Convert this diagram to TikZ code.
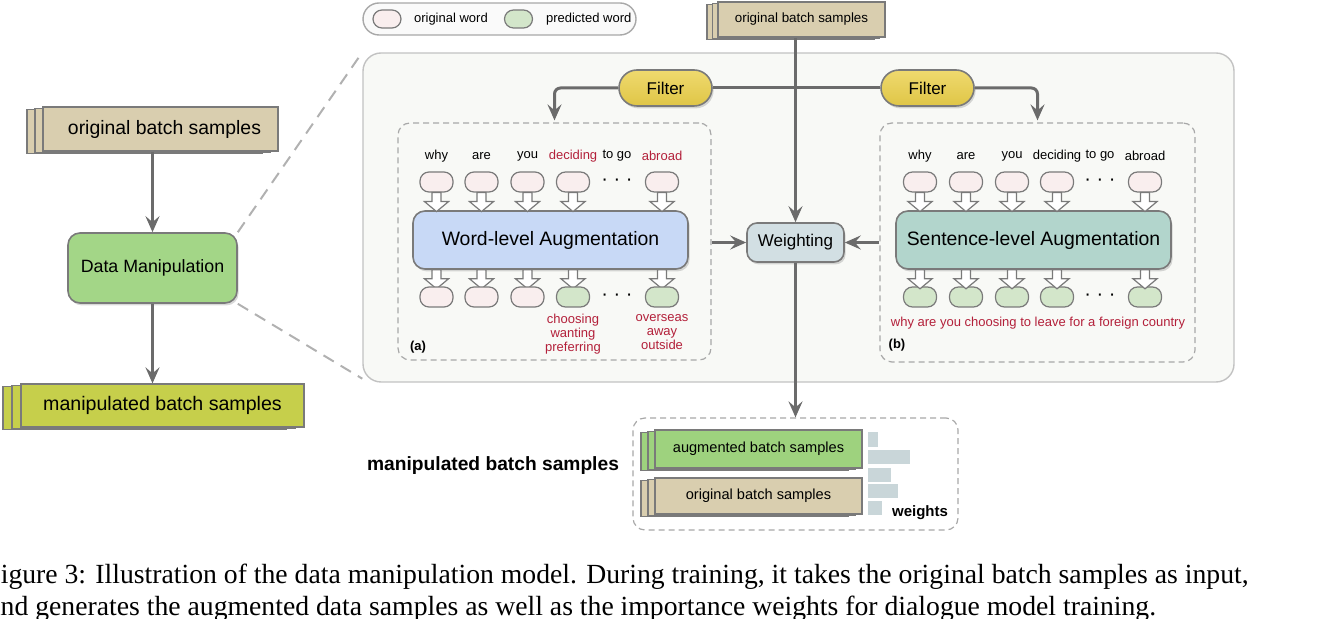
\documentclass[tikz,border=0pt]{standalone}
\usepackage{fontspec}
\setmainfont{Liberation Serif}
\setsansfont{Liberation Sans}
\usetikzlibrary{arrows.meta}
\usetikzlibrary{shadows}

\definecolor{lgray}{HTML}{6B6B6B}
\definecolor{bgray}{HTML}{7A7A7A}
\definecolor{dgray}{HTML}{A8A8A8}
\definecolor{beige}{HTML}{D9CEAF}
\definecolor{dmgreen}{HTML}{A3D687}
\definecolor{mangreen}{HTML}{C6CF4B}
\definecolor{filty}{HTML}{EBD04A}
\definecolor{wlblue}{HTML}{C8D9F6}
\definecolor{slteal}{HTML}{B2D5CC}
\definecolor{wgtc}{HTML}{D2DFE3}
\definecolor{auggreen}{HTML}{9ED27E}
\definecolor{pinkw}{HTML}{F9EEEE}
\definecolor{greenw}{HTML}{D3E6CA}
\definecolor{redw}{HTML}{B3203A}
\definecolor{panelc}{HTML}{F8F9F6}
\definecolor{barc}{HTML}{C9D6D9}

\tikzset{hdown/.pic={\draw[hollow] (-4.5,0) -- (-4.5,9) -- (-12,9) -- (0,19) -- (12,9) -- (4.5,9) -- (4.5,0) -- cycle;}}

\begin{document}
\begin{tikzpicture}[x=0.5pt,y=-0.5pt,font=\sffamily,
  conn/.style={draw=lgray,line width=1.5pt},
  arr/.style={conn,-{Stealth[length=8pt,width=7pt,inset=3pt]}},
  box/.style={draw=bgray,line width=0.8pt,rounded corners=6pt,drop shadow={shadow xshift=0.8pt,shadow yshift=-1.2pt,opacity=0.3}},
  stack/.style={draw=bgray,line width=0.6pt,double copy shadow={shadow xshift=-#1,shadow yshift=-0.6pt}},
  word/.style={draw=bgray,line width=0.6pt,rounded corners=4.5pt,minimum width=16.5pt,minimum height=10pt,inner sep=0pt},
  orig/.style={word,fill=pinkw},
  pred/.style={word,fill=greenw},
  hollow/.style={draw=bgray,fill=white,line width=0.6pt},
  lbl/.style={font=\sffamily\fontsize{6.5}{7}\selectfont},
  redl/.style={lbl,text=redw},
  dots/.style={font=\sffamily\fontsize{10}{10}\selectfont},
  dashbox/.style={draw=dgray,line width=0.6pt,rounded corners=6pt,dash pattern=on 3pt off 2pt},
  zoomline/.style={draw=dgray!90,line width=1pt,dash pattern=on 6pt off 4pt}]
\useasboundingbox (0,0) rectangle (1342,619);

% left column
\node[stack=4pt,fill=beige,minimum width=117.5pt,minimum height=22pt,font=\sffamily\fontsize{9.7}{11}\selectfont] (lorig) at (160.5,129) {\hspace{4pt}original batch samples};
\node[box,fill=dmgreen,minimum width=84.5pt,minimum height=35pt,font=\sffamily\fontsize{8.9}{10}\selectfont] (dm) at (152.5,268) {Data Manipulation};
\node[stack=4.5pt,fill=mangreen,minimum width=141.5pt,minimum height=21.5pt,font=\sffamily\fontsize{9.8}{11}\selectfont] (lman) at (162.5,405.5) {manipulated batch samples};
\draw[arr] (lorig.south -| dm.north) -- (dm.north);
\draw[arr] (dm.south) -- (dm.south |- lman.north);

% panel and legend
\node[draw=dgray!70,fill=panelc,line width=0.7pt,rounded corners=9pt,minimum width=435.5pt,minimum height=164.5pt] (panel) at (798.5,217.5) {};
\draw[zoomline] (dm.north east) -- (panel.north west);
\draw[zoomline] (dm.south east) -- ([yshift=2pt]panel.south west);
\node[draw=dgray,fill=white!98!black,line width=0.7pt,rounded corners=8pt,minimum width=136.5pt,minimum height=16pt] (legend) at (499.5,19) {};
\node[orig,minimum width=14pt,minimum height=9pt] (lgo) at (387,19) {};
\node[lbl,anchor=west] at (407,19) {original word};
\node[pred,minimum width=14pt,minimum height=9pt] (lgp) at (518.5,19) {};
\node[lbl,anchor=west] at (539,19) {predicted word};

% top input and filters
\node[stack=2.75pt,fill=beige,minimum width=83.5pt,minimum height=17.5pt,font=\sffamily\fontsize{6.7}{8}\selectfont] (torig) at (801.5,19.5) {original batch samples};
\node[box,top color=filty!80!white,bottom color=filty!95!black,rounded corners=9pt,minimum width=46.5pt,minimum height=18pt,font=\sffamily\fontsize{8.5}{10}\selectfont] (filtA) at (665.5,88) {Filter};
\node[box,top color=filty!80!white,bottom color=filty!95!black,rounded corners=9pt,minimum width=46.5pt,minimum height=18pt,font=\sffamily\fontsize{8.5}{10}\selectfont] (filtB) at (927.5,88) {Filter};

% (a) word-level
\node[dashbox,minimum width=156.5pt,minimum height=118.5pt] (boxA) at (554.5,241.5) {};
\node[box,fill=wlblue,minimum width=137.5pt,minimum height=29pt,font=\sffamily\fontsize{9.7}{12}\selectfont] (wla) at (550.5,240) {Word-level Augmentation};
\foreach \x [count=\i] in {436.5,481.5,527.5,573,662} {
  \node[orig] (wa\i) at (\x,182) {};
  \pic at (wa\i.south) {hdown};
  \pic at (wla.south -| wa\i) {hdown};
}
\foreach \x/\s [count=\i] in {436.5/orig,481.5/orig,527.5/orig,573/pred,662/pred}
  \node[\s] (pa\i) at (\x,297) {};
\foreach \x/\w in {436.5/why,481.5/are,527.5/you,617/to go}
  \node[lbl] at (\x,156) {\w};
\node[redl] at (573,156) {deciding};
\node[redl] at (662,156) {abroad};
\node[dots] at (617,182) {· · ·};
\node[dots] at (617,297) {· · ·};
\node[redl,align=center,anchor=north] at (573,307) {choosing\\wanting\\preferring};
\node[redl,align=center,anchor=north] at (662,307) {overseas\\away\\outside};
\node[lbl,font=\sffamily\bfseries\fontsize{6.5}{7}\selectfont] at (418,347) {(a)};

% (b) sentence-level
\node[dashbox,minimum width=157.5pt,minimum height=119.5pt] (boxB) at (1037.5,242.5) {};
\node[box,fill=slteal,minimum width=137.5pt,minimum height=29pt,font=\sffamily\fontsize{9.7}{12}\selectfont] (sla) at (1033.5,240) {Sentence-level Augmentation};
\foreach \x [count=\i] in {920,966,1012,1057,1145} {
  \node[orig] (wb\i) at (\x,182) {};
  \node[pred] (pb\i) at (\x,297) {};
  \pic at (wb\i.south) {hdown};
  \pic at (sla.south -| wb\i) {hdown};
}
\foreach \x/\w in {920/why,966/are,1012/you,1057/deciding,1100/to go,1145/abroad}
  \node[lbl] at (\x,156) {\w};
\node[dots] at (1100,182) {· · ·};
\node[dots] at (1100,297) {· · ·};
\node[redl] at (1038,323) {why are you choosing to leave for a foreign country};
\node[lbl,font=\sffamily\bfseries\fontsize{6.5}{7}\selectfont] at (897,345) {(b)};

% weighting
\node[box,fill=wgtc,rounded corners=5pt,minimum width=48.5pt,minimum height=19.5pt,font=\sffamily\fontsize{8.5}{10}\selectfont] (wgt) at (795.5,242.5) {Weighting};
\draw[conn] (filtA.east) -- (filtB.west);
\draw[arr,rounded corners=3pt,shorten >=1pt] (filtA.west) -| (boxA.north);
\draw[arr,rounded corners=3pt,shorten >=1pt] (filtB.east) -| (boxB.north);
\draw[arr] (torig.south -| wgt.north) -- (wgt.north);
\draw[arr] (boxA.east |- wgt.west) -- (wgt.west);
\draw[arr] (boxB.west |- wgt.east) -- (wgt.east);

% output
\node[dashbox,minimum width=162.5pt,minimum height=56pt] (boxC) at (795.5,474) {};
\draw[arr] (wgt.south) -- (wgt.south |- boxC.north);
\node[stack=3.5pt,fill=auggreen,minimum width=103.5pt,minimum height=19pt,font=\sffamily\fontsize{7.3}{8}\selectfont] (aug) at (758.5,449) {augmented batch samples};
\node[stack=3.5pt,fill=beige,minimum width=103.5pt,minimum height=18pt,font=\sffamily\fontsize{7.3}{8}\selectfont] (borig) at (758.5,496) {original batch samples};
\fill[barc] (868,432) rectangle (878,447);
\fill[barc] (868,450) rectangle (910,464);
\fill[barc] (868,468) rectangle (891,482);
\fill[barc] (868,484) rectangle (898,498);
\fill[barc] (868,501) rectangle (882,515);
\node[font=\sffamily\bfseries\fontsize{7.5}{8}\selectfont] (wlab) at (920,513) {weights};
\node[anchor=east,font=\sffamily\bfseries\fontsize{9.6}{11}\selectfont] (mlab) at (626,466) {manipulated batch samples};

% caption
\node[anchor=base west,inner sep=0pt,font=\fontsize{13.85}{16}\selectfont] (cap1) at (-15,583) {Figure 3: Illustration of the data manipulation model. During training, it takes the original batch samples as input,};
\node[anchor=base west,inner sep=0pt,font=\fontsize{13.85}{16}\selectfont] (cap2) at (-12,615) {and generates the augmented data samples as well as the importance weights for dialogue model training.};
\end{tikzpicture}
\end{document}
